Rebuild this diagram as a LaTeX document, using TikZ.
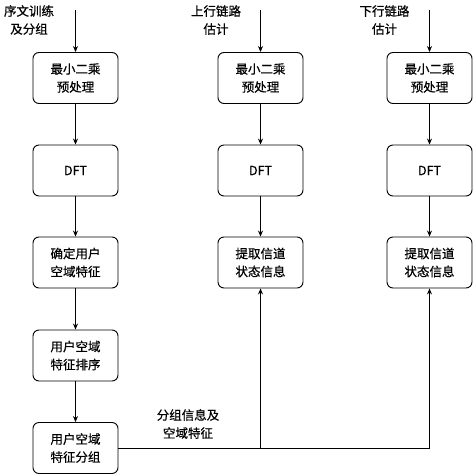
\documentclass[tikz,border=0pt]{standalone}
\usepackage{fontspec}
\newfontfamily\cjk[FakeBold=0.6]{Noto Sans CJK SC}
\usepackage{tikz}
\usetikzlibrary{arrows.meta}

\begin{document}
\begin{tikzpicture}[x=1pt, y=-1pt,
        box/.style={draw, line width=0.9pt, rounded corners=6pt, minimum width=85pt,
            minimum height=51pt, align=center, font=\cjk\fontsize{12.5}{18}\selectfont},
        lbl/.style={align=center, font=\cjk\fontsize{12.5}{18}\selectfont},
        arr/.style={-{Stealth[length=6pt, width=5pt]}, line width=0.8pt}]
        \useasboundingbox (0, 0) rectangle (474, 476);
        % Inputs
        \node [lbl] (train) at (29, 20) {序文训练\\及分组};
        \node [lbl] (up) at (216, 20) {上行链路\\估计};
        \node [lbl] (down) at (384.5, 20) {下行链路\\估计};
        \coordinate (in1) at (75.5, 10);
        \coordinate (in2) at (260.5, 10);
        \coordinate (in3) at (429.5, 10);
        % Left column
        \node [box] (pre1) at (75.5, 78) {最小二乘\\预处理};
        \node [box] (dft1) at (75.5, 170.5) {DFT};
        \node [box] (feat) at (75.5, 262.5) {确定用户\\空域特征};
        \node [box] (sort) at (75.5, 355.5) {用户空域\\特征排序};
        \node [box] (group) at (75.5, 448) {用户空域\\特征分组};
        % Middle column
        \node [box] (pre2) at (260.5, 78) {最小二乘\\预处理};
        \node [box] (dft2) at (260.5, 170.5) {DFT};
        \node [box] (csi2) at (260.5, 262.5) {提取信道\\状态信息};
        % Right column
        \node [box] (pre3) at (429.5, 78) {最小二乘\\预处理};
        \node [box] (dft3) at (429.5, 170.5) {DFT};
        \node [box] (csi3) at (429.5, 262.5) {提取信道\\状态信息};
        % Arrows
        \draw [arr] (in1) -- (pre1);
        \draw [arr] (pre1) -- (dft1);
        \draw [arr] (dft1) -- (feat);
        \draw [arr] (feat) -- (sort);
        \draw [arr] (sort) -- (group);
        \draw [arr] (in2) -- (pre2);
        \draw [arr] (pre2) -- (dft2);
        \draw [arr] (dft2) -- (csi2);
        \draw [arr] (in3) -- (pre3);
        \draw [arr] (pre3) -- (dft3);
        \draw [arr] (dft3) -- (csi3);
        % Feedback
        \draw [arr] (group.east) -| (csi2.south);
        \draw [arr] (group.east) -| (csi3.south);
        \node [lbl] (info) at (188, 424) {分组信息及\\空域特征};
    \end{tikzpicture}
\end{document}
